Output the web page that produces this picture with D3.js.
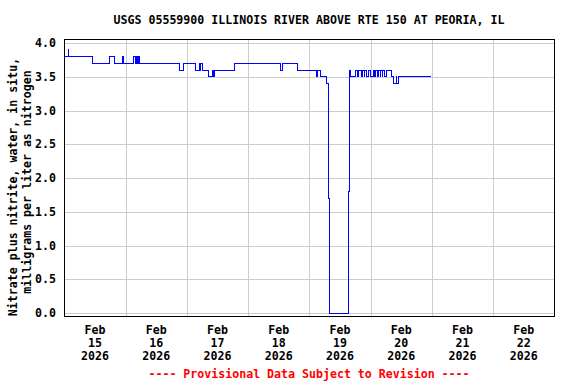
<!DOCTYPE html>
<html>
<head>
<meta charset="utf-8">
<script src="https://cdn.jsdelivr.net/npm/d3@7"></script>
<style>
  html, body { margin: 0; padding: 0; background: #fff; }
  svg { display: block; }
  text { font-family: "DejaVu Sans Mono", "Liberation Mono", monospace; font-weight: bold; font-size: 11.6px; fill: #000; }
</style>
</head>
<body>
<svg id="chart" width="576" height="384"></svg>
<script>
const titleText = "USGS 05559900 ILLINOIS RIVER ABOVE RTE 150 AT PEORIA, IL";
const yLabelLines = ["Nitrate plus nitrite, water, in situ,", "milligrams per liter as nitrogen"];
const footerText = "---- Provisional Data Subject to Revision ----";
const yTicks = [0, 0.5, 1.0, 1.5, 2.0, 2.5, 3.0, 3.5, 4.0];
const xTickDays = ["2026-02-15", "2026-02-16", "2026-02-17", "2026-02-18", "2026-02-19", "2026-02-20", "2026-02-21", "2026-02-22"];
const xDomain = ["2026-02-15 00:00", "2026-02-23 00:00"];

// step change points (value holds until next time)
const stepTimes = [
  "2026-02-15 00:00","2026-02-15 01:30","2026-02-15 01:45","2026-02-15 11:00","2026-02-15 17:30",
  "2026-02-15 19:30","2026-02-15 22:45","2026-02-15 23:15","2026-02-16 03:15","2026-02-16 03:45",
  "2026-02-16 04:15","2026-02-16 04:45","2026-02-16 05:00","2026-02-16 05:30","2026-02-16 21:15",
  "2026-02-16 22:30","2026-02-17 03:15","2026-02-17 04:45","2026-02-17 05:00","2026-02-17 05:30",
  "2026-02-17 06:00","2026-02-17 08:30","2026-02-17 10:00","2026-02-17 10:30","2026-02-17 11:00",
  "2026-02-17 18:30","2026-02-18 12:30","2026-02-18 13:30","2026-02-18 19:15","2026-02-19 02:45",
  "2026-02-19 03:15","2026-02-19 04:30","2026-02-19 06:45","2026-02-19 07:30","2026-02-19 07:45",
  "2026-02-19 15:30","2026-02-19 15:45","2026-02-19 16:00","2026-02-19 18:15","2026-02-19 18:45",
  "2026-02-19 19:15","2026-02-19 20:15","2026-02-19 21:00","2026-02-19 21:30","2026-02-19 21:45",
  "2026-02-19 22:15","2026-02-19 23:00","2026-02-19 23:45","2026-02-20 01:00","2026-02-20 01:30",
  "2026-02-20 01:45","2026-02-20 02:30","2026-02-20 03:00","2026-02-20 03:45","2026-02-20 04:00",
  "2026-02-20 04:30","2026-02-20 04:45","2026-02-20 05:15","2026-02-20 06:15","2026-02-20 08:15",
  "2026-02-20 09:00","2026-02-20 10:00","2026-02-20 10:15","2026-02-20 11:00","2026-02-20 23:45"
];
const stepValues = [
  3.8,3.9,3.8,3.7,3.8,
  3.7,3.8,3.7,3.8,3.7,
  3.8,3.7,3.8,3.7,3.6,
  3.7,3.6,3.7,3.6,3.7,
  3.6,3.5,3.6,3.5,3.6,
  3.7,3.6,3.7,3.6,3.5,
  3.6,3.5,3.4,1.7,0.0,
  1.8,3.6,3.5,3.6,3.5,
  3.6,3.5,3.6,3.5,3.6,
  3.5,3.6,3.5,3.6,3.5,
  3.6,3.5,3.6,3.5,3.6,
  3.5,3.6,3.5,3.6,3.5,
  3.4,3.5,3.4,3.5,3.5
];

const parse = d3.timeParse("%Y-%m-%d %H:%M");
const parseDay = d3.timeParse("%Y-%m-%d");
const data = stepTimes.map((t, i) => ({ t: parse(t), v: stepValues[i] }));

const frame = { left: 64, right: 554, top: 39, bottom: 316 };
const svg = d3.select("#chart");

const x = d3.scaleTime().domain(xDomain.map(parse)).range([frame.left + 0.4, frame.right + 0.4]);
const y = d3.scaleLinear().domain([0, 4]).range([313, 43]);

// grid
const grid = svg.append("g").attr("shape-rendering", "crispEdges");
grid.selectAll("line.h").data(yTicks).enter().append("line")
  .attr("x1", frame.left).attr("x2", frame.right)
  .attr("y1", d => Math.round(y(d)) + 0.5).attr("y2", d => Math.round(y(d)) + 0.5)
  .attr("stroke", "#cccccc").attr("stroke-width", 1);
grid.selectAll("line.v").data(xTickDays.slice(1)).enter().append("line")
  .attr("x1", d => Math.round(x(parseDay(d))) + 0.5).attr("x2", d => Math.round(x(parseDay(d))) + 0.5)
  .attr("y1", frame.top).attr("y2", frame.bottom)
  .attr("stroke", "#cccccc").attr("stroke-width", 1);

// data line
const line = d3.line().x(d => x(d.t)).y(d => y(d.v)).curve(d3.curveStepAfter);
svg.append("path").datum(data)
  .attr("d", line)
  .attr("fill", "none").attr("stroke", "#0000ff").attr("stroke-width", 1)
  .attr("shape-rendering", "crispEdges");

// frame
svg.append("rect")
  .attr("x", frame.left + 0.5).attr("y", frame.top + 0.5)
  .attr("width", frame.right - frame.left).attr("height", frame.bottom - frame.top)
  .attr("fill", "none").attr("stroke", "#000").attr("stroke-width", 1)
  .attr("shape-rendering", "crispEdges");

// y tick labels
svg.append("g").selectAll("text").data(yTicks).enter().append("text")
  .attr("x", 56).attr("y", d => y(d)).attr("dy", "0.36em")
  .attr("text-anchor", "end")
  .text(d => d3.format(".1f")(d));

// x tick labels
const fmtMon = d3.timeFormat("%b"), fmtDay = d3.timeFormat("%-d"), fmtYr = d3.timeFormat("%Y");
const xl = svg.append("g").selectAll("g").data(xTickDays).enter().append("g")
  .attr("transform", d => `translate(${x(d3.timeHour.offset(parseDay(d), 12))},0)`);
xl.append("text").attr("y", 334).attr("text-anchor", "middle").text(d => fmtMon(parseDay(d)));
xl.append("text").attr("y", 347).attr("text-anchor", "middle").text(d => fmtDay(parseDay(d)));
xl.append("text").attr("y", 360).attr("text-anchor", "middle").text(d => fmtYr(parseDay(d)));

// title
svg.append("text").attr("x", 309).attr("y", 24).attr("text-anchor", "middle").text(titleText);

// y axis label
svg.append("text").attr("transform", "translate(16.5,187) rotate(-90)").attr("text-anchor", "middle").text(yLabelLines[0]);
svg.append("text").attr("transform", "translate(31,182) rotate(-90)").attr("text-anchor", "middle").text(yLabelLines[1]);

// footer
svg.append("text").attr("x", 309).attr("y", 378).attr("text-anchor", "middle").style("fill", "#ff0000").text(footerText);
</script>
</body>
</html>
